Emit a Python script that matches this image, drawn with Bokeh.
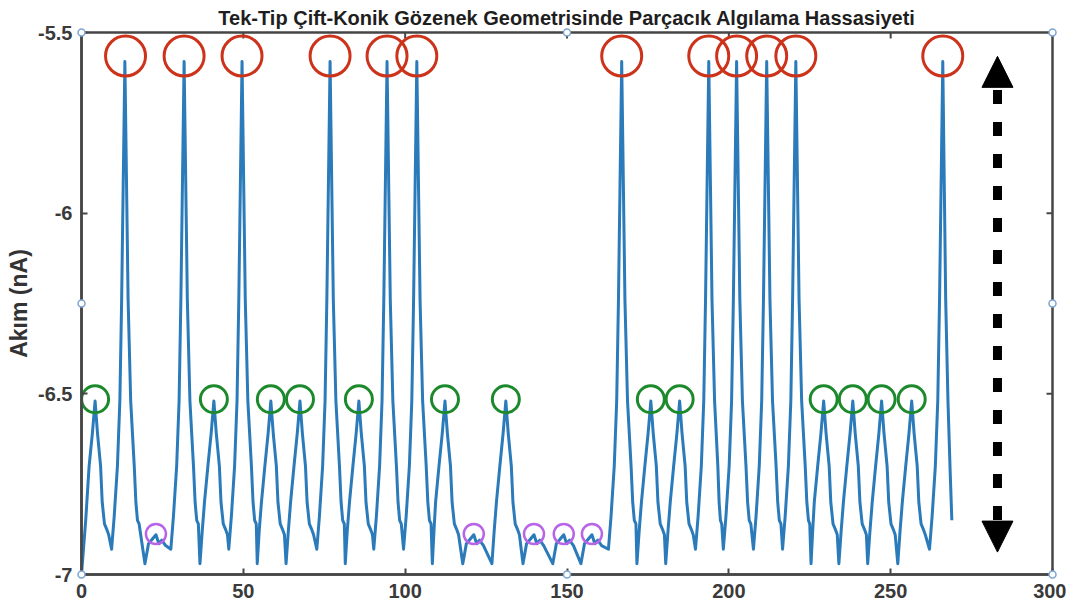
from bokeh.plotting import figure
from bokeh.models import Range1d, FixedTicker, NumeralTickFormatter, Arrow, NormalHead
from bokeh.embed import file_html
from bokeh.resources import INLINE

# ---------------- data ----------------
title_text = "Tek-Tip Çift-Konik Gözenek Geometrisinde Parçacık Algılama Hassasiyeti"
y_label = "Akım (nA)"
x_ticks = [0, 50, 100, 150, 200, 250, 300]
y_ticks = [-7, -6.5, -6, -5.5]

# current trace (nA), one row per inter-peak interval
trace_x = [
    0.0, 1.3, 2.35, 3.35, 4.2,
    4.95, 5.9, 6.4, 7.1, 7.8, 8.4, 9.3, 10.1, 11.1, 11.85, 12.4, 13.4,
    14.4, 15.2, 16.3, 16.8, 17.3, 17.8, 19.6, 20.7, 23.0,
    23.9, 24.8, 26.0, 27.6, 28.4, 29.4, 30.15, 30.7, 31.7,
    32.7, 33.5, 34.6, 35.1, 35.6, 36.1, 36.6, 37.3, 38.0, 39.05, 40.05, 40.9,
    41.65, 42.6, 43.1, 43.8, 44.5, 45.1, 45.5, 46.3, 47.3, 48.05, 48.6, 49.6,
    50.6, 51.4, 52.5, 53.0, 53.5, 54.0, 54.3, 54.9, 55.6, 56.65, 57.65, 58.5,
    59.25, 60.2, 60.7, 61.4, 62.1, 62.7, 63.2, 63.9, 64.6, 65.65, 66.65, 67.5,
    68.25, 69.2, 69.7, 70.4, 71.1, 71.7, 72.7, 73.5, 74.5, 75.25, 75.8, 76.8,
    77.8, 78.6, 79.7, 80.2, 80.7, 81.2, 81.5, 82.1, 82.8, 83.85, 84.85, 85.7,
    86.45, 87.4, 87.9, 88.6, 89.3, 89.9, 90.3, 91.1, 92.1, 92.85, 93.4, 94.4,
    95.4, 96.2, 97.3, 97.8, 98.3, 98.8, 99.5, 100.3, 101.3, 102.05, 102.6, 103.6,
    104.6, 105.4, 106.5, 107.0, 107.5, 108.0, 108.4, 108.9, 109.4, 110.45, 111.45, 112.3,
    113.05, 114.0, 114.5, 115.2, 115.9, 116.5, 117.8, 118.9, 121.2,
    122.1, 123.0, 124.2, 126.8, 127.5, 128.2, 129.25, 130.25, 131.1,
    131.85, 132.8, 133.3, 134.0, 134.7, 135.3, 136.4, 137.5, 139.8,
    140.7, 141.6, 142.8, 145.6, 146.7, 149.0,
    149.9, 150.8, 152.0, 154.3, 155.4, 157.7,
    158.6, 159.5, 160.7, 162.8, 163.6, 164.6, 165.35, 165.9, 166.9,
    167.9, 168.7, 169.8, 170.3, 170.8, 171.3, 171.6, 172.3, 173.0, 174.05, 175.05, 175.9,
    176.65, 177.6, 178.1, 178.8, 179.5, 180.1, 180.5, 181.2, 181.9, 182.95, 183.95, 184.8,
    185.55, 186.5, 187.0, 187.7, 188.4, 189.0, 189.7, 190.5, 191.5, 192.25, 192.8, 193.8,
    194.8, 195.6, 196.6, 197.0, 197.4, 197.8, 198.3, 199.1, 200.1, 200.85, 201.4, 202.4,
    203.4, 204.2, 205.3, 205.8, 206.3, 206.8, 207.6, 208.4, 209.4, 210.15, 210.7, 211.7,
    212.7, 213.5, 214.6, 215.1, 215.6, 216.1, 216.6, 217.4, 218.4, 219.15, 219.7, 220.7,
    221.7, 222.5, 223.6, 224.1, 224.6, 225.0, 225.4, 225.9, 226.4, 227.45, 228.45, 229.3,
    230.05, 231.0, 231.5, 232.2, 232.9, 233.5, 234.0, 234.7, 235.4, 236.45, 237.45, 238.3,
    239.05, 240.0, 240.5, 241.2, 241.9, 242.5, 242.9, 243.6, 244.3, 245.35, 246.35, 247.2,
    247.95, 248.9, 249.4, 250.1, 250.8, 251.4, 252.2, 252.9, 253.6, 254.65, 255.65, 256.5,
    257.25, 258.2, 258.7, 259.4, 260.1, 260.7, 262.0, 262.8, 263.8, 264.55, 265.1, 266.1,
    267.0, 267.7, 268.4, 268.9,
]
trace_y = [
    -7.0, -6.85, -6.70, -6.61, -6.52,
    -6.61, -6.70, -6.80, -6.86, -6.875, -6.89, -6.93, -6.84, -6.70, -6.52, -6.24, -5.58,
    -6.24, -6.52, -6.70, -6.80, -6.85, -6.86, -6.97, -6.915, -6.89,
    -6.915, -6.905, -6.92, -6.93, -6.84, -6.70, -6.52, -6.24, -5.58,
    -6.24, -6.52, -6.70, -6.80, -6.85, -6.86, -6.97, -6.88, -6.80, -6.70, -6.61, -6.52,
    -6.61, -6.70, -6.80, -6.86, -6.875, -6.89, -6.93, -6.84, -6.70, -6.52, -6.24, -5.58,
    -6.24, -6.52, -6.70, -6.80, -6.85, -6.86, -6.97, -6.88, -6.80, -6.70, -6.61, -6.52,
    -6.61, -6.70, -6.80, -6.86, -6.875, -6.89, -6.97, -6.88, -6.80, -6.70, -6.61, -6.52,
    -6.61, -6.70, -6.80, -6.86, -6.875, -6.89, -6.93, -6.84, -6.70, -6.52, -6.24, -5.58,
    -6.24, -6.52, -6.70, -6.80, -6.85, -6.86, -6.97, -6.88, -6.80, -6.70, -6.61, -6.52,
    -6.61, -6.70, -6.80, -6.86, -6.875, -6.89, -6.93, -6.84, -6.70, -6.52, -6.24, -5.58,
    -6.24, -6.52, -6.70, -6.80, -6.85, -6.86, -6.93, -6.84, -6.70, -6.52, -6.24, -5.58,
    -6.24, -6.52, -6.70, -6.80, -6.85, -6.86, -6.97, -6.88, -6.80, -6.70, -6.61, -6.52,
    -6.61, -6.70, -6.80, -6.86, -6.875, -6.89, -6.97, -6.915, -6.89,
    -6.915, -6.905, -6.92, -6.97, -6.88, -6.80, -6.70, -6.61, -6.52,
    -6.61, -6.70, -6.80, -6.86, -6.875, -6.89, -6.97, -6.915, -6.89,
    -6.915, -6.905, -6.92, -6.97, -6.915, -6.89,
    -6.915, -6.905, -6.92, -6.97, -6.915, -6.89,
    -6.915, -6.905, -6.92, -6.93, -6.84, -6.70, -6.52, -6.24, -5.58,
    -6.24, -6.52, -6.70, -6.80, -6.85, -6.86, -6.97, -6.88, -6.80, -6.70, -6.61, -6.52,
    -6.61, -6.70, -6.80, -6.86, -6.875, -6.89, -6.97, -6.88, -6.80, -6.70, -6.61, -6.52,
    -6.61, -6.70, -6.80, -6.86, -6.875, -6.89, -6.93, -6.84, -6.70, -6.52, -6.24, -5.58,
    -6.24, -6.52, -6.70, -6.80, -6.85, -6.86, -6.93, -6.84, -6.70, -6.52, -6.24, -5.58,
    -6.24, -6.52, -6.70, -6.80, -6.85, -6.86, -6.93, -6.84, -6.70, -6.52, -6.24, -5.58,
    -6.24, -6.52, -6.70, -6.80, -6.85, -6.86, -6.93, -6.84, -6.70, -6.52, -6.24, -5.58,
    -6.24, -6.52, -6.70, -6.80, -6.85, -6.86, -6.97, -6.88, -6.80, -6.70, -6.61, -6.52,
    -6.61, -6.70, -6.80, -6.86, -6.875, -6.89, -6.97, -6.88, -6.80, -6.70, -6.61, -6.52,
    -6.61, -6.70, -6.80, -6.86, -6.875, -6.89, -6.97, -6.88, -6.80, -6.70, -6.61, -6.52,
    -6.61, -6.70, -6.80, -6.86, -6.875, -6.89, -6.97, -6.88, -6.80, -6.70, -6.61, -6.52,
    -6.61, -6.70, -6.80, -6.86, -6.875, -6.89, -6.93, -6.84, -6.70, -6.52, -6.24, -5.58,
    -6.24, -6.52, -6.72, -6.85,
]

# detected events (circled peaks)
large_x = [13.6, 31.7, 49.6, 76.8, 94.4, 103.6, 166.9, 193.8, 202.4, 211.7, 220.7, 266.1]
large_y = [-5.565] * 12
medium_x = [4.2, 40.9, 58.5, 67.5, 85.7, 112.3, 131.1, 175.9, 184.8, 229.3, 238.3, 247.2, 256.5]
medium_y = [-6.515] * 13
small_x = [23.0, 121.2, 139.8, 149.0, 157.7]
small_y = [-6.888] * 5

# double arrow (amplitude range)
arrow_x = 283.0
arrow_y_top = -5.566
arrow_y_bottom = -6.938

# figure-edge handles
handle_x = [0, 150, 300, 0, 300, 0, 150, 300]
handle_y = [-5.5, -5.5, -5.5, -6.25, -6.25, -7, -7, -7]

# ---------------- figure ----------------
FONT = "Liberation Sans"
AX = "#464646"
X0, X1, Y0, Y1 = 0, 300, -7, -5.5
FRAME_W, FRAME_H = 971, 542
TICK_PX = 6

p = figure(width=1066, height=607, x_range=Range1d(X0, X1), y_range=Range1d(Y0, Y1),
           output_backend="svg", toolbar_location=None,
           min_border_left=81, min_border_right=14, min_border_top=32, min_border_bottom=33)
p.background_fill_color = "white"
p.border_fill_color = "white"
p.xgrid.visible = False
p.ygrid.visible = False
p.outline_line_color = AX
p.outline_line_width = 2.5

p.title.text = title_text
p.title.align = "center"
p.title.text_font = FONT
p.title.text_font_size = "20px"
p.title.text_font_style = "bold"
p.title.text_color = "#1e1e1e"
p.title.standoff = 8

def style_axis(ax):
    ax.axis_line_color = AX
    ax.axis_line_width = 2.5
    ax.major_tick_line_color = AX
    ax.major_tick_line_width = 2
    ax.major_tick_in = TICK_PX
    ax.major_tick_out = 0
    ax.minor_tick_line_color = None
    ax.major_label_text_font = FONT
    ax.major_label_text_font_style = "bold"
    ax.major_label_text_font_size = "20px"
    ax.major_label_text_color = "#3a3a3a"

style_axis(p.xaxis[0])
style_axis(p.yaxis[0])
p.xaxis.ticker = FixedTicker(ticks=x_ticks)
p.yaxis.ticker = FixedTicker(ticks=y_ticks)
p.yaxis.formatter = NumeralTickFormatter(format="0.[0]")
p.xaxis.major_label_standoff = 9
p.yaxis.major_label_standoff = 9
p.yaxis.axis_label = y_label
p.yaxis.axis_label_text_font = FONT
p.yaxis.axis_label_text_font_style = "bold"
p.yaxis.axis_label_text_font_size = "23px"
p.yaxis.axis_label_text_color = "#333333"
p.yaxis.axis_label_standoff = 3

# mirrored inward ticks on the top and right edges of the box
dy = TICK_PX * (Y1 - Y0) / FRAME_H
dx = TICK_PX * (X1 - X0) / FRAME_W
top_ticks = x_ticks[1:-1]
right_ticks = y_ticks[1:-1]
p.segment(x0=top_ticks, y0=[Y1] * len(top_ticks), x1=top_ticks, y1=[Y1 - dy] * len(top_ticks),
          line_color=AX, line_width=2)
p.segment(x0=[X1] * len(right_ticks), y0=right_ticks, x1=[X1 - dx] * len(right_ticks), y1=right_ticks,
          line_color=AX, line_width=2)

p.line(trace_x, trace_y, line_color="#2b7bba", line_width=3, line_join="round")

p.scatter(large_x, large_y, marker="circle", size=40, fill_alpha=0,
          line_color="#cc331a", line_width=3)
p.scatter(medium_x, medium_y, marker="circle", size=27, fill_alpha=0,
          line_color="#1c8a2c", line_width=3)
p.scatter(small_x, small_y, marker="circle", size=20, fill_alpha=0,
          line_color="#b964e6", line_width=2.5)

p.add_layout(Arrow(
    start=NormalHead(size=31, fill_color="black", line_color="black", line_width=1),
    end=NormalHead(size=31, fill_color="black", line_color="black", line_width=1),
    x_start=arrow_x, y_start=arrow_y_bottom, x_end=arrow_x, y_end=arrow_y_top,
    line_width=9, line_dash="14 18", line_color="black"))

p.scatter(handle_x, handle_y, marker="circle", size=7, line_color="#7ea6d3",
          fill_color="white", line_width=1.5, level="overlay")

open("out.html", "w").write(file_html(p, INLINE))
